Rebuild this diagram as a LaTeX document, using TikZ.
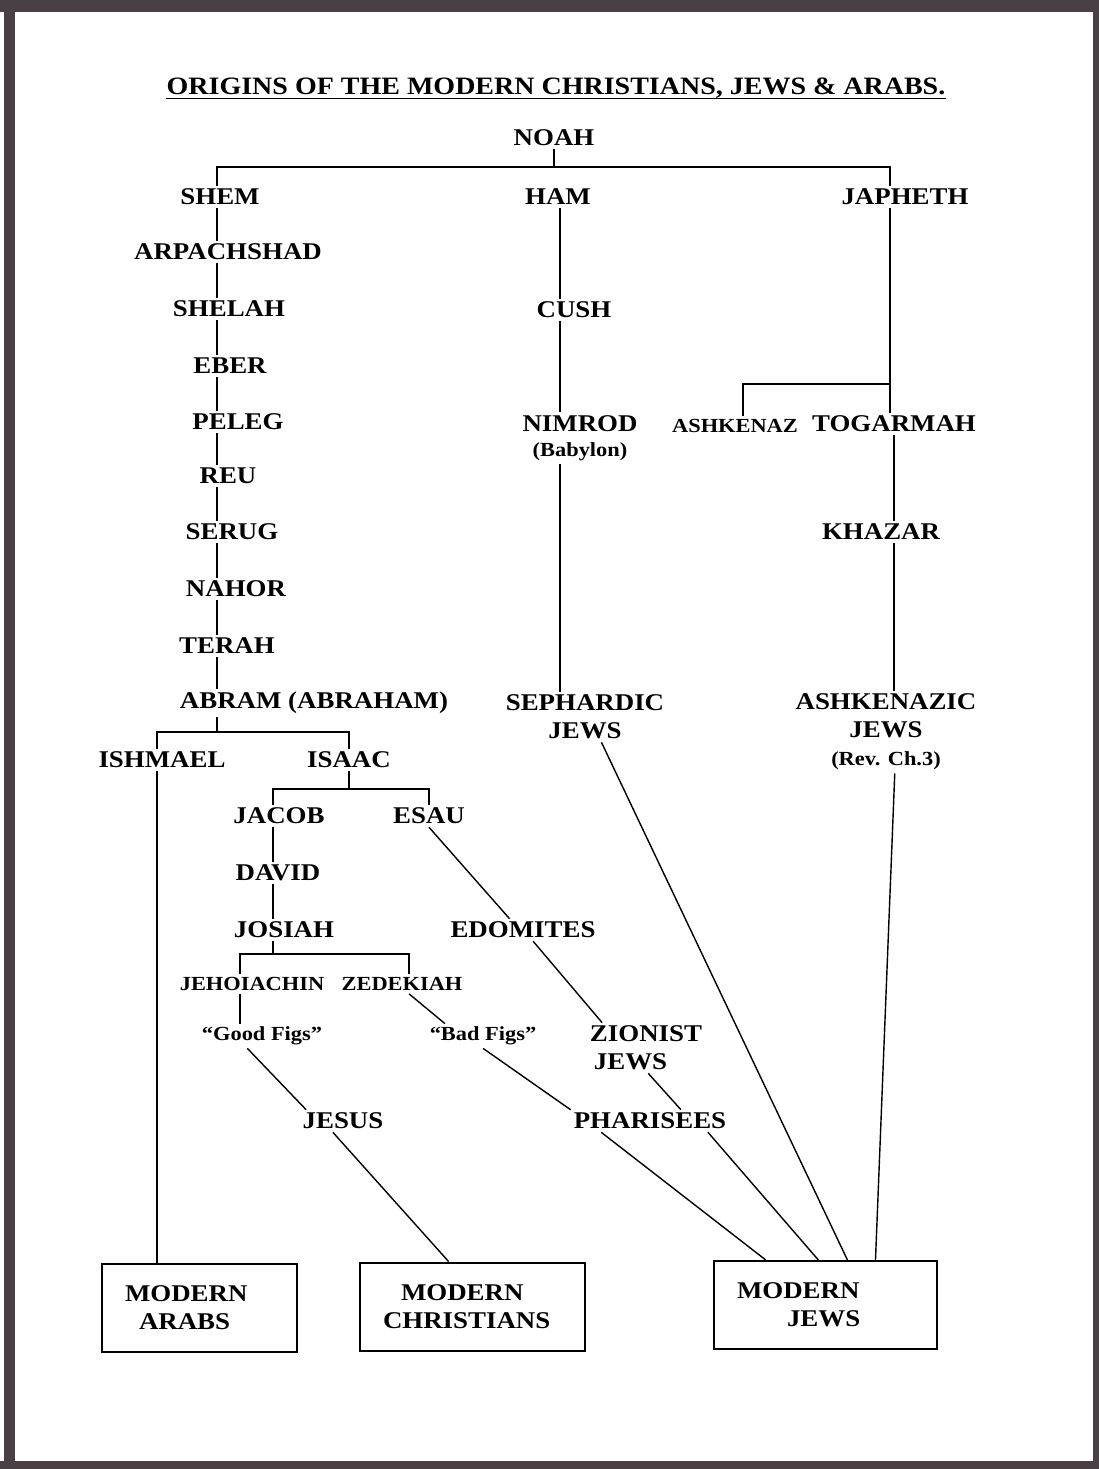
\documentclass[tikz,border=0pt]{standalone}
\usepackage{fontspec}
\setmainfont{Liberation Serif}[FakeStretch=1.12]
\definecolor{scanframe}{RGB}{72,64,68}
\newcommand{\namefont}{\fontsize{24}{28}\selectfont\bfseries}
\newcommand{\minorfont}{\fontsize{20}{24}\selectfont\bfseries}
\newcommand{\titlefont}{\fontsize{25}{30}\selectfont\bfseries}

\begin{document}
\begin{tikzpicture}[
    x=1pt, y=-1pt,
    every node/.style={align=center, inner sep=3pt},
    person/.style={font=\namefont},
    minor/.style={font=\minorfont},
    box/.style={draw, rectangle, line width=2pt, font=\namefont, align=left, inner xsep=23pt, minimum height=88pt},
    link/.style={line width=1.4pt},
    scan/.style={fill=scanframe}
]

% Page and scanned frame
\useasboundingbox (0,0) rectangle (1099,1469);
\fill[white] (0,0) rectangle (1099,1469);
\fill[scan] (0,0) rectangle (1099,12);
\fill[scan] (4,0) rectangle (15,1469);
\fill[scan] (1093,0) rectangle (1099,1469);
\fill[scan] (0,1461) rectangle (1099,1469);

% Title
\node[font=\titlefont, inner sep=0pt] (title) at (556,88) {ORIGINS OF THE MODERN CHRISTIANS, JEWS \& ARABS.};
\draw[line width=1.5pt] (title.south west) -- (title.south east);

% Columns and bracket heights
\coordinate (lspine) at (217,0);
\coordinate (ishx) at (157,0);
\coordinate (jacx) at (273,0);
\coordinate (jehx) at (240,0);
\coordinate (zedx) at (409,0);
\coordinate (hspine) at (560,0);
\coordinate (jspine) at (890,0);
\coordinate (ashx) at (743,0);
\coordinate (kspine) at (894,0);
\coordinate (nbar) at (0,167);
\coordinate (abar) at (0,732);
\coordinate (ibar) at (0,789);
\coordinate (jbar) at (0,954);
\coordinate (tbar) at (0,384);

% Noah and his sons
\node[person] (noah) at (554,138) {NOAH};
\node[person] (shem) at (220,197) {SHEM};
\node[person] (ham) at (558,197) {HAM};
\node[person] (japheth) at (905,197) {JAPHETH};

% Line of Shem
\node[person] (arpa) at (228,252) {ARPACHSHAD};
\node[person] (shelah) at (229,309) {SHELAH};
\node[person] (eber) at (230,366) {EBER};
\node[person] (peleg) at (238,422) {PELEG};
\node[person] (reu) at (228,476) {REU};
\node[person] (serug) at (232,532) {SERUG};
\node[person] (nahor) at (236,589) {NAHOR};
\node[person] (terah) at (227,646) {TERAH};
\node[person] (abram) at (314,703) {ABRAM (ABRAHAM)};
\node[person] (ishmael) at (162,760) {ISHMAEL};
\node[person] (isaac) at (349,760) {ISAAC};
\node[person] (jacob) at (279,816) {JACOB};
\node[person] (esau) at (429,816) {ESAU};
\node[person] (david) at (278,873) {DAVID};
\node[person] (josiah) at (284,930) {JOSIAH};
\node[person] (edomites) at (523,930) {EDOMITES};
\node[minor] (jehoiachin) at (252,984) {JEHOIACHIN};
\node[minor] (zedekiah) at (402,984) {ZEDEKIAH};
\node[minor] (goodfigs) at (262,1036) {“Good Figs”};
\node[minor] (badfigs) at (483,1036) {“Bad Figs”};
\node[person, align=left] (zionist) at (646,1048) {ZIONIST\\\hspace*{4pt}JEWS};
\node[person] (jesus) at (343,1121) {JESUS};
\node[person] (pharisees) at (650,1121) {PHARISEES};

% Line of Ham
\node[person] (cush) at (574,310) {CUSH};
\node[person] (nimrod) at (580,438) {NIMROD\\[-3pt]{\minorfont (Babylon)}};
\node[person] (sephardic) at (585,717) {SEPHARDIC\\JEWS};

% Line of Japheth
\node[minor] (ashkenaz) at (735,426) {ASHKENAZ};
\node[person] (togarmah) at (894,424) {TOGARMAH};
\node[person] (khazar) at (881,532) {KHAZAR};
\node[person] (ashkenazic) at (886,732) {ASHKENAZIC\\JEWS\\{\minorfont (Rev. Ch.3)}};

% Modern peoples
\node[box, text width=149pt] (arabs) at (199.5,1307.5) {MODERN\\\hspace*{14pt}ARABS};
\node[box, text width=179pt] (christians) at (472.5,1306.5) {\hspace*{18pt}MODERN\\CHRISTIANS};
\node[box, text width=177pt] (jews) at (825.5,1305) {MODERN\\\hspace*{50pt}JEWS};

% Noah's sons
\draw[link] (noah.south) -- (noah.south |- nbar);
\draw[link] (shem.north -| lspine) -- (nbar -| lspine) -- (nbar -| jspine) -- (japheth.north -| jspine);

% Shem down to Abram
\draw[link] (shem.south -| lspine) -- (arpa.north -| lspine);
\draw[link] (arpa.south -| lspine) -- (shelah.north -| lspine);
\draw[link] (shelah.south -| lspine) -- (eber.north -| lspine);
\draw[link] (eber.south -| lspine) -- (peleg.north -| lspine);
\draw[link] (peleg.south -| lspine) -- (reu.north -| lspine);
\draw[link] (reu.south -| lspine) -- (serug.north -| lspine);
\draw[link] (serug.south -| lspine) -- (nahor.north -| lspine);
\draw[link] (nahor.south -| lspine) -- (terah.north -| lspine);
\draw[link] (terah.south -| lspine) -- (abram.north -| lspine);

% Abram's sons
\draw[link] (abram.south -| lspine) -- (abar -| lspine);
\draw[link] (ishmael.north -| ishx) -- (abar -| ishx) -- (abar -| isaac) -- (isaac.north);
\draw[link] (ishmael.south -| ishx) -- (arabs.north -| ishx);

% Isaac's sons and the kings
\draw[link] (isaac.south) -- (isaac.south |- ibar);
\draw[link] (jacob.north -| jacx) -- (ibar -| jacx) -- (ibar -| esau) -- (esau.north);
\draw[link] (jacob.south -| jacx) -- (david.north -| jacx);
\draw[link] (david.south -| jacx) -- (josiah.north -| jacx);
\draw[link] (josiah.south -| jacx) -- (jbar -| jacx);
\draw[link] (jehoiachin.north -| jehx) -- (jbar -| jehx) -- (jbar -| zedx) -- (zedekiah.north -| zedx);
\draw[link] (jehoiachin.south -| jehx) -- (goodfigs.north -| jehx);
\draw[link] (zedekiah.south -| zedx) -- (badfigs.162);
\draw[link] (goodfigs.220) -- (jesus.163);
\draw[link] (jesus.228) -- (christians.118);
\draw[link] (badfigs.south) -- (pharisees.north west);

% Esau's line
\draw[link] (esau.south) -- (edomites.140);
\draw[link] (edomites.-48) -- (zionist.150);
\draw[link] (zionist.-85) -- (pharisees.20);
\draw[link] (pharisees.-167) -- (jews.143);
\draw[link] (pharisees.-11) -- (jews.99);

% Ham's line
\draw[link] (ham.south -| hspine) -- (cush.north -| hspine);
\draw[link] (cush.south -| hspine) -- (nimrod.north -| hspine);
\draw[link] (nimrod.south -| hspine) -- (sephardic.north -| hspine);
\draw[link] (sephardic.-57) -- (jews.64);

% Japheth's line
\draw[link] (japheth.south -| jspine) -- (togarmah.north -| jspine);
\draw[link] (tbar -| jspine) -- (tbar -| ashx) -- (ashkenaz.north -| ashx);
\draw[link] (togarmah.south -| kspine) -- (khazar.north -| kspine);
\draw[link] (khazar.south -| kspine) -- (ashkenazic.north -| kspine);
\draw[link] (ashkenazic.-78) -- (jews.42);

\end{tikzpicture}
\end{document}
